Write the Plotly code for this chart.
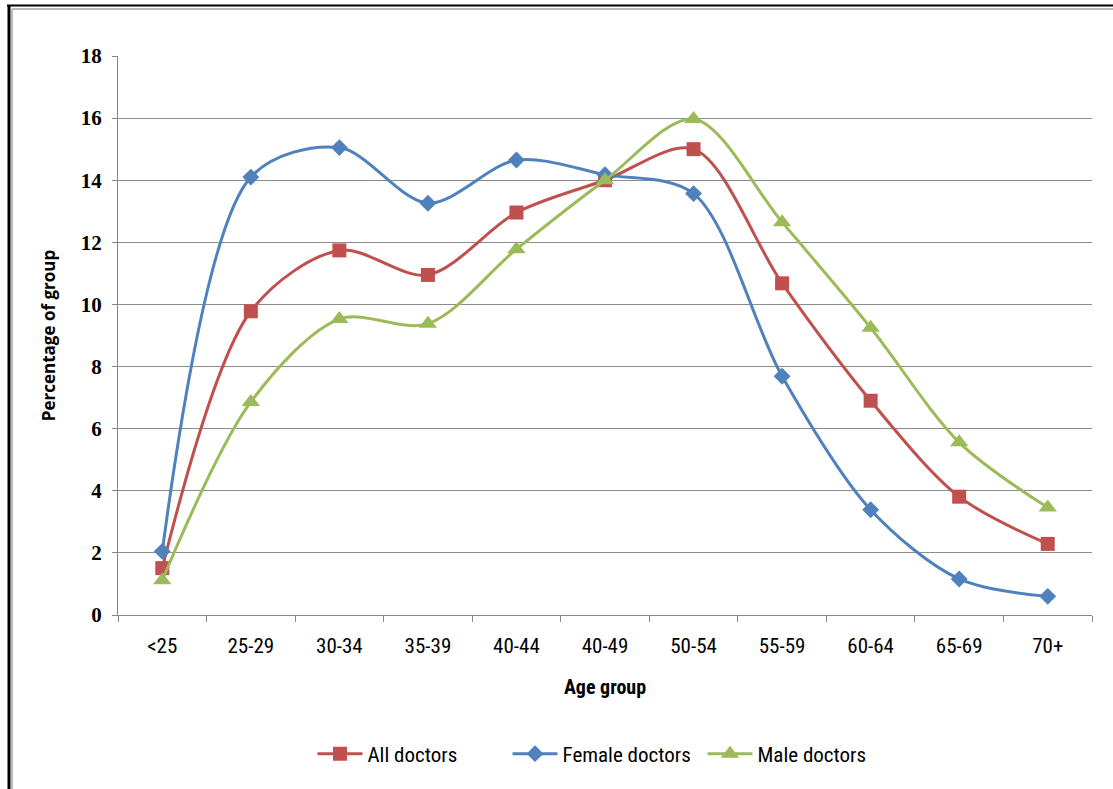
import plotly.graph_objects as go

age_groups = ["<25", "25-29", "30-34", "35-39", "40-44", "40-49", "50-54", "55-59", "60-64", "65-69", "70+"]
all_doctors = [1.51, 9.78, 11.74, 10.95, 12.96, 14.0, 15.0, 10.68, 6.9, 3.81, 2.29]
female_doctors = [2.05, 14.1, 15.05, 13.26, 14.65, 14.18, 13.57, 7.69, 3.39, 1.16, 0.6]
male_doctors = [1.12, 6.86, 9.53, 9.38, 11.78, 14.0, 15.97, 12.65, 9.25, 5.56, 3.46]

L, R, T, B = 118, 21, 56, 174
W, H = 1113, 789
pw, ph = W - L - R, H - T - B

def px(x):
    return (x - L) / pw

def py(y):
    return (H - B - y) / ph

NARROW = "Liberation Sans Narrow, Roboto Condensed, Roboto, sans-serif"

fig = go.Figure()
series = [
    ("All doctors", all_doctors, "#C0504D", "square", 14),
    ("Female doctors", female_doctors, "#4F81BD", "diamond", 13),
    ("Male doctors", male_doctors, "#9BBB59", "triangle-up", 16),
]
for name, vals, col, sym, sz in series:
    fig.add_trace(go.Scatter(
        x=age_groups, y=vals, name=name, mode="lines+markers",
        line=dict(color=col, width=3, shape="spline", smoothing=0.9),
        marker=dict(symbol=sym, size=sz, color=col),
    ))

fig.update_layout(
    width=W, height=H,
    margin=dict(l=L, r=R, t=T, b=B),
    paper_bgcolor="white", plot_bgcolor="white",
    showlegend=True,
    legend=dict(orientation="h", x=0.5, xanchor="center", y=py(754), yanchor="middle",
                font=dict(family=NARROW, size=21, color="black"),
                itemwidth=45, tracegroupgap=0, entrywidth=135, entrywidthmode="pixels"),
    xaxis=dict(
        type="category", range=[-0.5, 10.5],
        showgrid=False, showline=True, linecolor="#868686", linewidth=1,
        ticks="outside", tickson="boundaries", ticklen=6, tickcolor="#868686",
        ticklabelstandoff=12,
        tickfont=dict(family=NARROW, size=21, color="black"),
        title=dict(text="<b>Age group</b>", font=dict(family=NARROW, size=20, color="black"), standoff=22),
    ),
    yaxis=dict(
        range=[0, 18], dtick=2, showgrid=True, gridcolor="#8C8C8C", gridwidth=1,
        showline=True, linecolor="#868686", linewidth=1,
        ticks="outside", ticklen=5, tickcolor="#868686",
        zeroline=False, ticklabelstandoff=6,
        tickfont=dict(family="Liberation Serif, DejaVu Serif, serif", size=21, color="black", weight="bold"),
        title=dict(text="<b>Percentage of group</b>", font=dict(family="Open Sans, sans-serif", size=17, color="black"), standoff=20),
    ),
    shapes=[
        dict(type="line", xref="paper", yref="paper", x0=px(7), x1=px(1113), y0=py(5.5), y1=py(5.5),
             line=dict(color="black", width=2)),
        dict(type="line", xref="paper", yref="paper", x0=px(9), x1=px(9), y0=py(5), y1=py(789),
             line=dict(color="black", width=3)),
        dict(type="line", xref="paper", yref="paper", x0=px(12), x1=px(1113), y0=py(9), y1=py(9),
             line=dict(color="#BBBBBB", width=2)),
        dict(type="line", xref="paper", yref="paper", x0=px(12), x1=px(12), y0=py(9), y1=py(789),
             line=dict(color="#BBBBBB", width=2)),
    ],
)

fig.write_html("out.html")
